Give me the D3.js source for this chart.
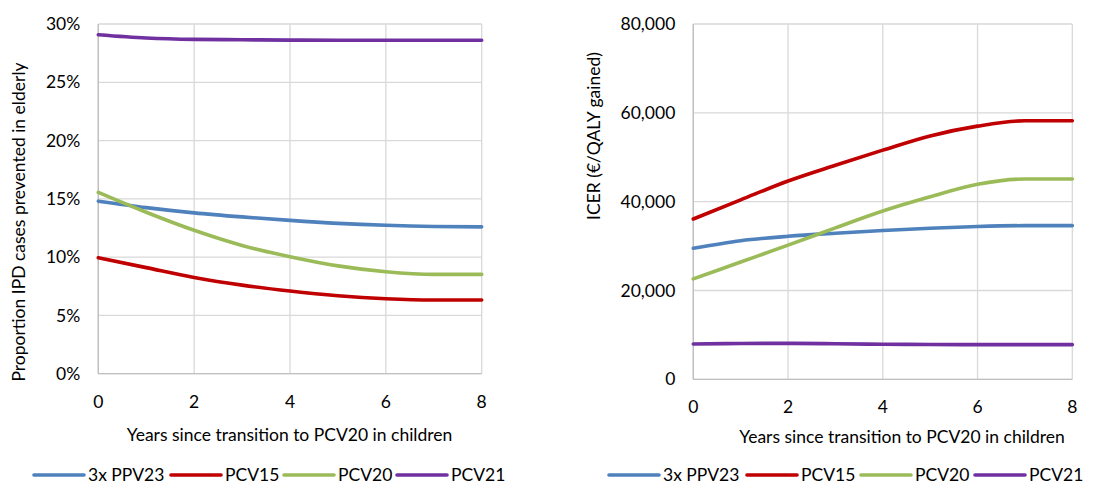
<!DOCTYPE html>
<html><head><meta charset="utf-8">
<script src="https://cdn.jsdelivr.net/npm/d3@7"></script>
<style>
body{margin:0;background:#fff;}
text{font-family:Lato,"Open Sans",sans-serif;fill:#000;}
</style></head><body>
<svg id="c" width="1115" height="485"></svg>
<script>
const years = [0,1,2,3,4,5,6,7,8];
const seriesNames = ["3x PPV23","PCV15","PCV20","PCV21"];
const colors = ["#4F81BD","#C00000","#9BBB59","#7030A0"];
// Left panel: proportion IPD cases prevented (%)
const leftPPV23 = [14.8,14.25,13.8,13.45,13.15,12.9,12.73,12.63,12.6];
const leftPCV15 = [9.95,9.1,8.26,7.6,7.09,6.69,6.43,6.32,6.32];
const leftPCV20 = [15.55,13.85,12.3,11.0,10.04,9.25,8.75,8.52,8.52];
const leftPCV21 = [29.08,28.8,28.68,28.65,28.62,28.6,28.6,28.6,28.6];
// Right panel: ICER (€/QALY gained)
const rightPPV23 = [29500,31200,32200,32900,33500,34000,34400,34600,34600];
const rightPCV15 = [36100,40400,44650,48200,51600,54800,57000,58200,58200];
const rightPCV20 = [22600,26400,30200,34100,37900,41100,43900,45100,45100];
const rightPCV21 = [7950,8050,8100,8000,7900,7850,7800,7800,7800];
const xTicks = [0,2,4,6,8];
const leftYTicks = [0,5,10,15,20,25,30];
const rightYTicks = [0,20000,40000,60000,80000];

const svg = d3.select("#c");
const FS = 17.5;

function panel(cfg){
  const g = svg.append("g");
  const x = d3.scaleLinear().domain([0,8]).range([cfg.x0,cfg.x1]);
  const y = d3.scaleLinear().domain(cfg.yDomain).range([cfg.yb,cfg.yt]);
  // gridlines
  g.selectAll(".hg").data(cfg.yTicks).join("line")
    .attr("x1",cfg.x0).attr("x2",cfg.x1).attr("y1",d=>y(d)).attr("y2",d=>y(d))
    .attr("stroke","#d9d9d9").attr("stroke-width",1.3);
  g.selectAll(".vg").data(xTicks).join("line")
    .attr("x1",d=>x(d)).attr("x2",d=>x(d)).attr("y1",cfg.yt).attr("y2",cfg.yb)
    .attr("stroke","#d9d9d9").attr("stroke-width",1.3);
  // axes lines
  g.append("line").attr("x1",cfg.x0).attr("x2",cfg.x1).attr("y1",cfg.yb).attr("y2",cfg.yb)
    .attr("stroke","#bfbfbf").attr("stroke-width",1.3);
  g.append("line").attr("x1",cfg.x0).attr("x2",cfg.x0).attr("y1",cfg.yt).attr("y2",cfg.yb)
    .attr("stroke","#bfbfbf").attr("stroke-width",1.3);
  // tick labels
  g.selectAll(".yl").data(cfg.yTicks).join("text")
    .attr("x",cfg.x0-18).attr("y",d=>y(d)).attr("dy","0.35em")
    .attr("text-anchor","end").attr("font-size",FS).text(cfg.fmt);
  g.selectAll(".xl").data(xTicks).join("text")
    .attr("x",d=>x(d)).attr("y",cfg.yb+(401.7-373.7)).attr("dy","0.35em")
    .attr("text-anchor","middle").attr("font-size",FS).text(d=>d);
  // titles
  g.append("text").attr("x",cfg.xTitleX).attr("y",cfg.xTitleY).attr("dy","0.35em")
    .attr("text-anchor","middle").attr("font-size",FS).text("Years since transition to PCV20 in children");
  g.append("text").attr("transform",`translate(${cfg.yTitleX},${cfg.yTitleY}) rotate(-90)`)
    .attr("dy","0.35em").attr("text-anchor","middle").attr("font-size",FS).text(cfg.yTitle);
  // lines
  const line = d3.line().x((d,i)=>x(years[i])).y(d=>y(d)).curve(d3.curveMonotoneX);
  cfg.data.forEach((s,i)=>{
    g.append("path").datum(s).attr("d",line).attr("fill","none")
      .attr("stroke",colors[i]).attr("stroke-width",3.6).attr("stroke-linecap","round");
  });
  // legend
  const lg = g.append("g");
  cfg.legendX.forEach((lx,i)=>{
    lg.append("line").attr("x1",lx).attr("x2",lx+50).attr("y1",cfg.legendY).attr("y2",cfg.legendY)
      .attr("stroke",colors[i]).attr("stroke-width",3.6).attr("stroke-linecap","round");
    lg.append("text").attr("x",lx+54).attr("y",cfg.legendY).attr("dy","0.35em")
      .attr("font-size",FS).text(seriesNames[i]);
  });
}

panel({x0:98.3,x1:481.7,yt:24,yb:373.7,yDomain:[0,30],yTicks:leftYTicks,
  fmt:d=>d+"%",yTitle:"Proportion IPD cases prevented in elderly",yTitleX:19,yTitleY:222,
  xTitleX:289.5,xTitleY:435,data:[leftPPV23,leftPCV15,leftPCV20,leftPCV21],
  legendX:[34,171,284,397],legendY:475});
panel({x0:693.3,x1:1072.3,yt:24,yb:379.3,yDomain:[0,80000],yTicks:rightYTicks,
  fmt:d3.format(","),yTitle:"ICER (€/QALY gained)",yTitleX:594,yTitleY:136,
  xTitleX:902,xTitleY:437,data:[rightPPV23,rightPCV15,rightPCV20,rightPCV21],
  legendX:[609,747,861,975],legendY:475});
</script></body></html>
